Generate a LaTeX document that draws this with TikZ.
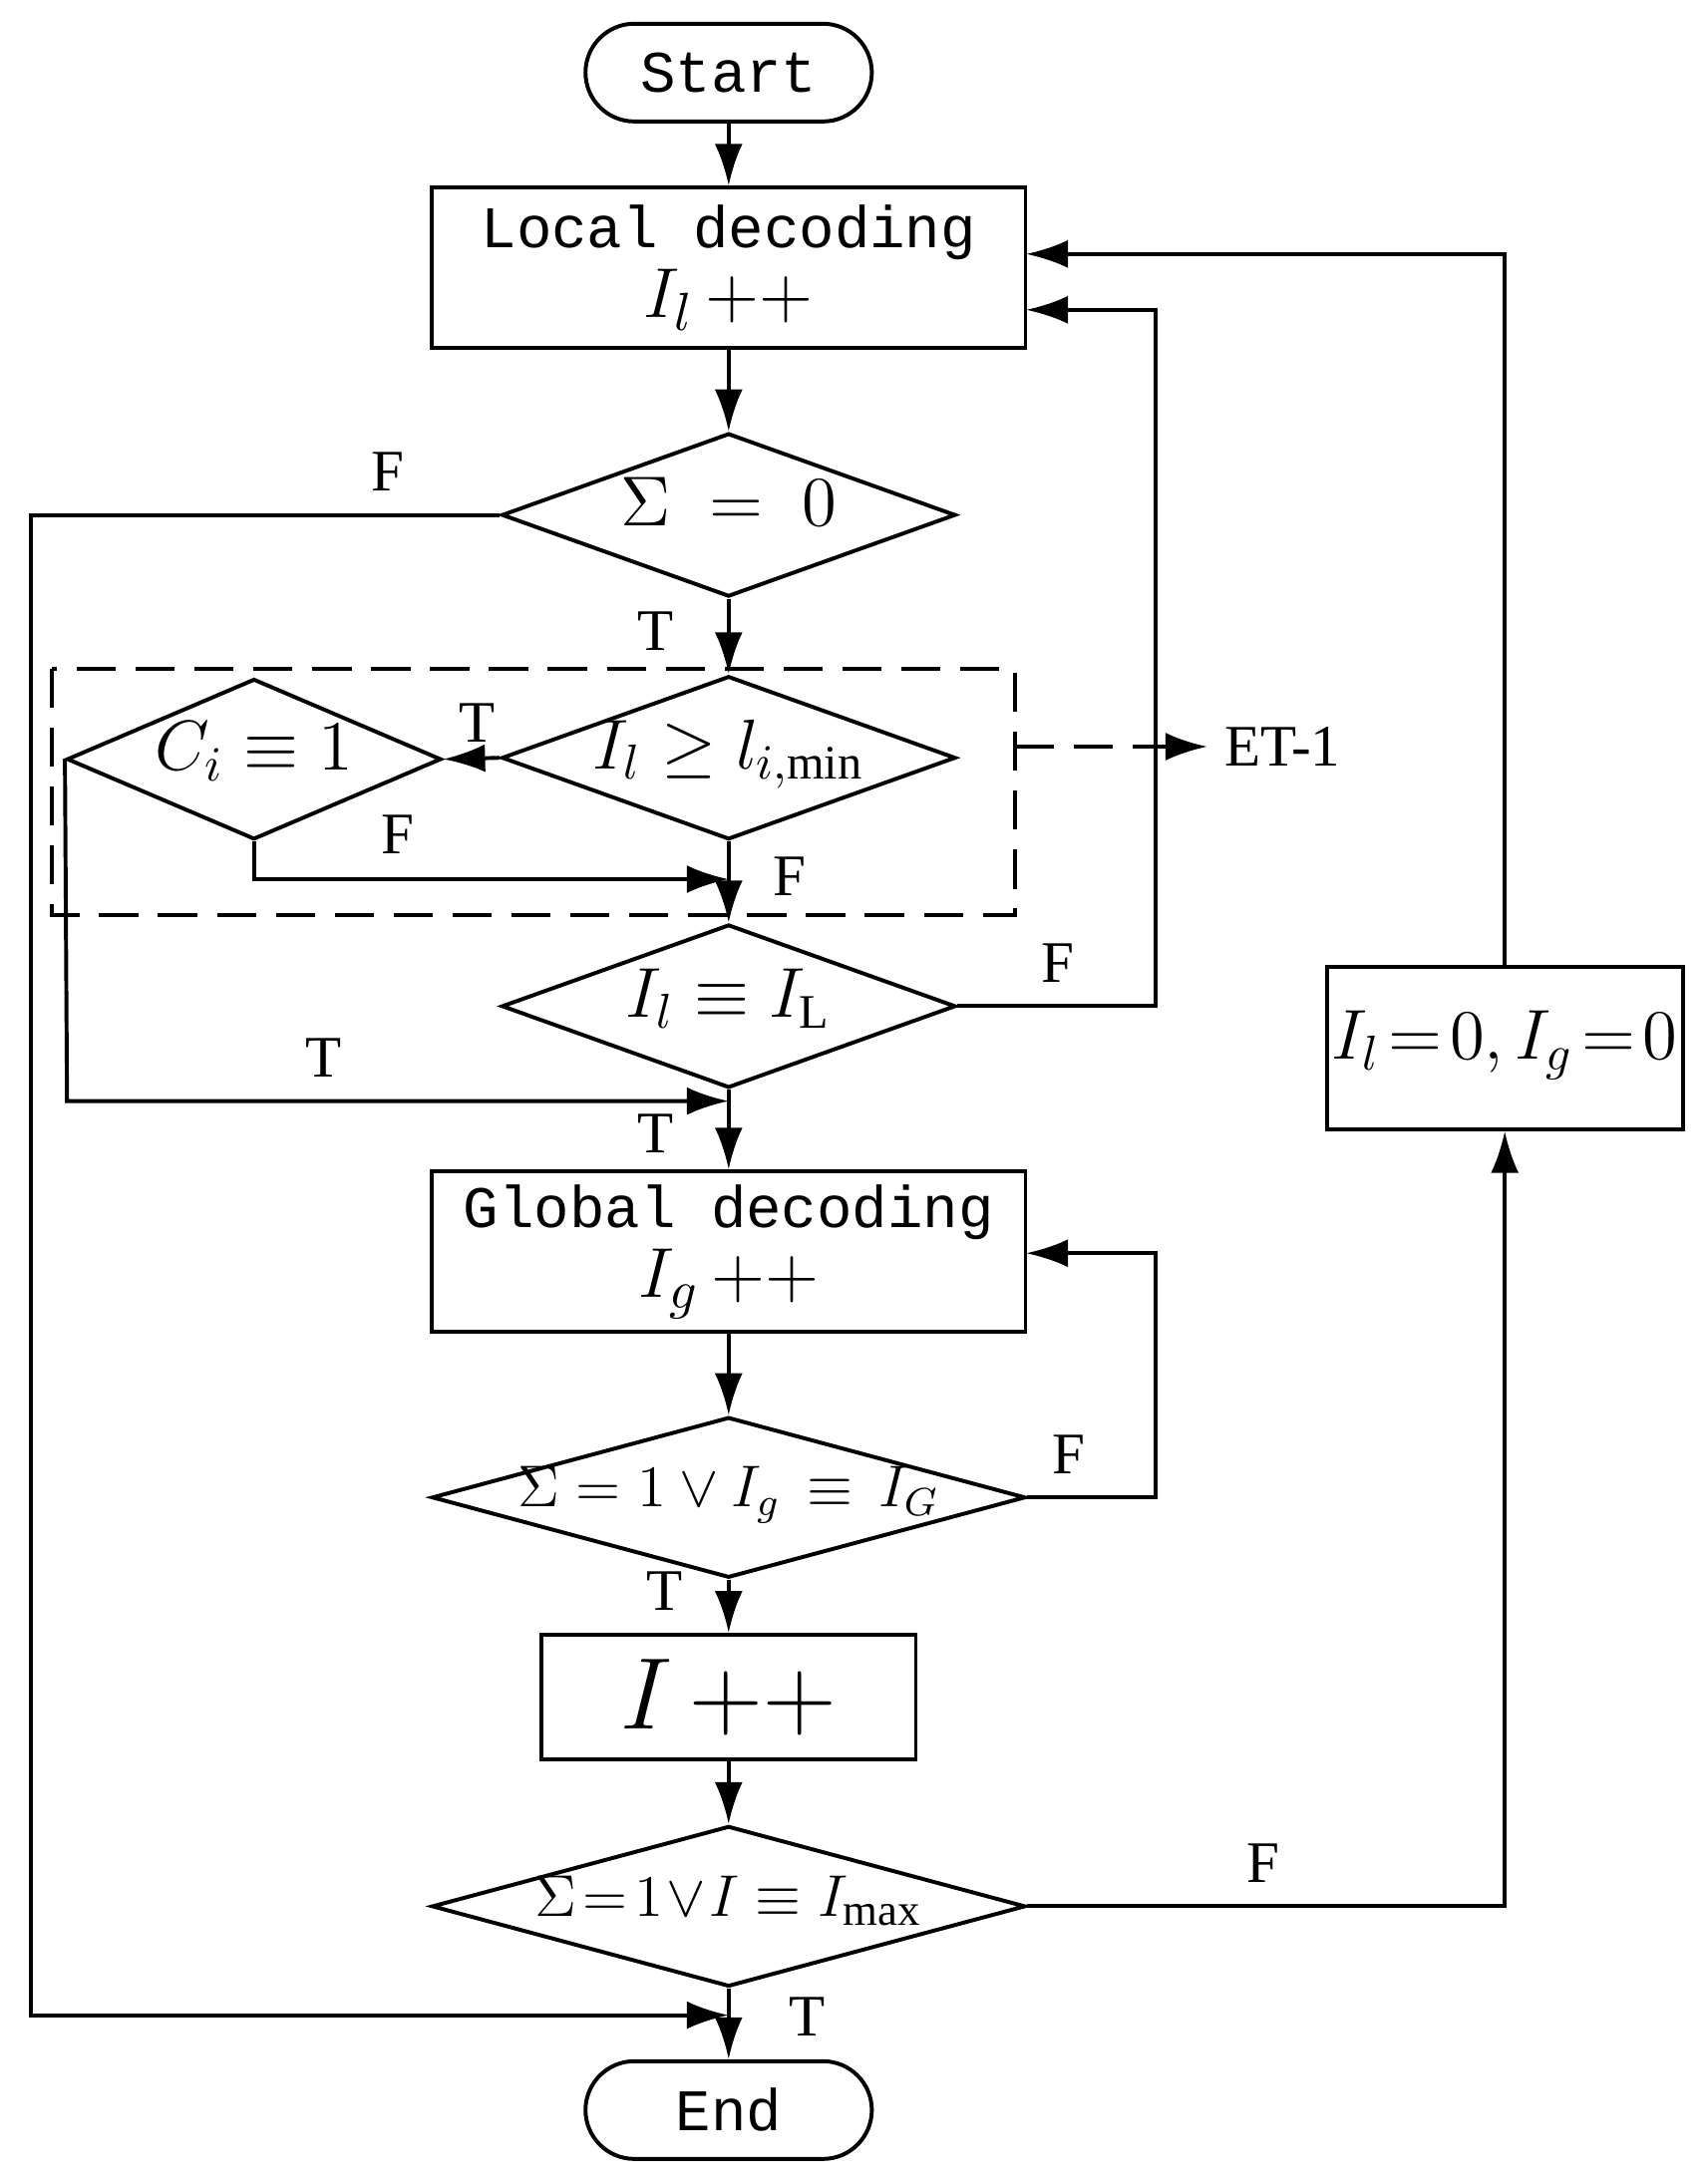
\documentclass[tikz,border=0pt]{standalone}
\usepackage{fontspec}
\setmainfont{Liberation Serif}
\newfontfamily\lbl{Liberation Mono}
\usetikzlibrary{shapes.geometric,arrows.meta}
\newcommand{\fix}[1]{\raisebox{-0.7ex}{\smash{\makebox[0pt]{#1}}}}
\tikzset{
	flow/.style={thick,-{Latex[length=3mm,width=2mm]}},
	proc/.style={draw,thick,minimum width=4.25cm,minimum height=1.15cm,align=center,inner sep=0pt},
	term/.style={draw,thick,rounded corners=0.35cm,minimum width=2.05cm,minimum height=0.7cm,font=\lbl\fontsize{12}{14}\selectfont},
	dec/.style={draw,thick,diamond,aspect=2.8,minimum width=3.25cm,minimum height=1.17cm,inner sep=0pt,font=\fontsize{14}{16}\selectfont},
	tf/.style={font=\fontsize{12}{14}\selectfont},
	group/.style={thick,dash pattern=on 8pt off 4pt}
}
\begin{document}
\begin{tikzpicture}[x=0.01cm,y=-0.01cm]
	\useasboundingbox (0,0) rectangle (1222,1565);
	% nodes
	\node[term] (start) at (522,52) {Start};
	\node[proc] (local) at (522,192) {{\lbl\fontsize{12}{14}\selectfont Local decoding}\\[1pt]{\fontsize{15}{17}\selectfont$I_l\,{+}{+}$}};
	\node[dec] (zero) at (522,369) {\fix{$\Sigma\;=\;0$}};
	\node[dec] (lmin) at (522,543) {\fix{$I_l\geq l_{i,\min}$}};
	\node[dec,minimum width=2.68cm,minimum height=1.15cm] (ci) at (182,544) {\fix{$C_i\equiv1$}};
	\node[dec] (lmax) at (522,721) {\fix{$I_l\equiv I_{\mathrm{L}}$}};
	\node[proc] (global) at (522,897) {{\lbl\fontsize{12}{14}\selectfont Global decoding}\\[1pt]{\fontsize{15}{17}\selectfont$I_g\,{+}{+}$}};
	\node[dec,minimum width=4.25cm,minimum height=1.15cm,font=\fontsize{12}{14}\selectfont] (gmax) at (522,1073) {\fix{$\Sigma=1\vee I_g\,\equiv\,I_G$}};
	\node[proc,minimum width=2.68cm,minimum height=0.89cm,font=\fontsize{22}{24}\selectfont] (inc) at (522,1216) {$I\,{+}{+}$};
	\node[dec,minimum width=4.25cm,minimum height=1.15cm,font=\fontsize{13}{15}\selectfont] (imax) at (522,1366) {\fix{$\Sigma\!=\!1\!\vee\! I\equiv I_{\max}$}};
	\node[term] (end) at (522,1512) {End};
	\node[proc,minimum width=2.55cm,minimum height=1.16cm,font=\fontsize{14}{16}\selectfont] (reset) at (1078,751) {\fix{$I_l\!=\!0,I_g\!=\!0$}};
	\coordinate (etend) at (865,535);
	% dashed group
	\draw[group] (37,479) rectangle (727,656);
	\draw[group,-{Latex[length=3mm,width=2mm]}] (727,535) -- (etend);
	\node[tf,anchor=west] at (etend) {ET-1};
	% connectors
	\draw[flow] (start) -- (local);
	\draw[flow] (local) -- (zero);
	\draw[flow] (zero) -- (lmin);
	\draw[flow] (zero.west) -- (22,369) -- (22,1444) -- (522,1444);
	\draw[flow] (lmin.west) -- (ci.east);
	\draw[flow] (ci.south) -- (182,630) -- (522,630);
	\draw[flow] (lmin) -- (lmax);
	\draw[flow] (ci.west) -- (48,789) -- (522,789);
	\draw[flow] (lmax.east) -- (828,721) -- (828,222) -- (735,222);
	\draw[flow] (lmax) -- (global);
	\draw[flow] (global) -- (gmax);
	\draw[flow] (gmax.east) -- (828,1073) -- (828,898) -- (735,898);
	\draw[flow] (gmax) -- (inc);
	\draw[flow] (inc) -- (imax);
	\draw[flow] (imax.east) -- (1078,1366) -- (reset.south);
	\draw[flow] (reset.north) -- (1078,182) -- (735,182);
	\draw[flow] (imax) -- (end);
	% labels
	\node[tf] at (278,338) {F};
	\node[tf] at (470,452) {T};
	\node[tf] at (342,518) {T};
	\node[tf] at (285,598) {F};
	\node[tf] at (566,628) {F};
	\node[tf] at (232,758) {T};
	\node[tf] at (758,690) {F};
	\node[tf] at (470,812) {T};
	\node[tf] at (766,1042) {F};
	\node[tf] at (476,1140) {T};
	\node[tf] at (905,1335) {F};
	\node[tf] at (578,1445) {T};
\end{tikzpicture}
\end{document}
